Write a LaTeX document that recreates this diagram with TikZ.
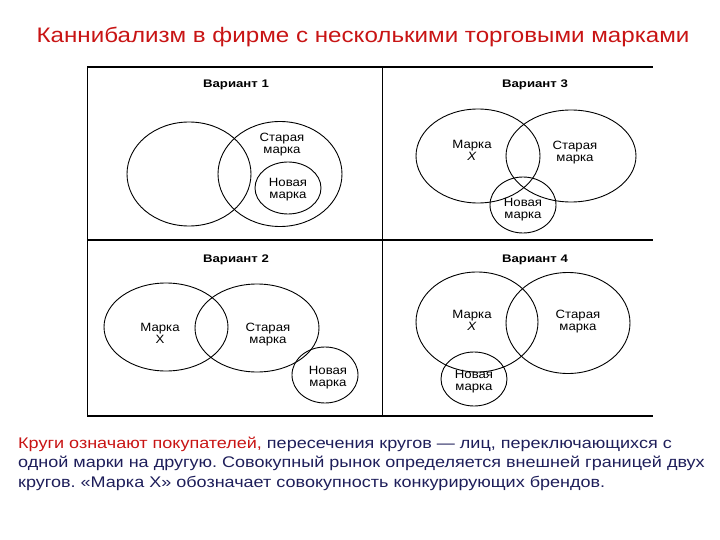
\documentclass[tikz,border=0pt]{standalone}
\usepackage{fontspec}
\setmainfont{Liberation Sans}
\usetikzlibrary{shapes.geometric}
\frenchspacing
\definecolor{ttlred}{RGB}{200,20,20}
\definecolor{txtblue}{RGB}{30,30,90}
\tikzset{
  frameline/.style={line width=1.8pt},
  thinline/.style={line width=0.9pt},
  ring/.style={ellipse, draw, line width=0.9pt, inner sep=0pt},
  vtitle/.style={font=\fontsize{11}{12}\selectfont\bfseries, xscale=1.2, anchor=base, inner sep=0pt},
  lbl/.style={font=\fontsize{12}{12}\selectfont, align=center, xscale=1.1, inner sep=0pt},
  body/.style={font=\fontsize{15.4}{18}\selectfont, anchor=base west, inner sep=0pt, text=txtblue, xscale=1.17}
}
\begin{document}
\begin{tikzpicture}[x=1pt,y=-1pt]
\useasboundingbox (0,0) rectangle (720,540);
% title
\node[font=\fontsize{21}{24}\selectfont, text=ttlred, xscale=1.15, anchor=base, inner sep=0pt] (title) at (363,43) {Каннибализм в фирме с несколькими торговыми марками};
% frame
\coordinate (tl) at (87,67);
\coordinate (tr) at (653,67);
\coordinate (ml) at (87,240);
\coordinate (mr) at (653,240);
\coordinate (bl) at (87,416);
\coordinate (br) at (653,416);
\coordinate (mt) at (382,67);
\coordinate (mb) at (382,416);
\draw[frameline] (tl) -- (tr);
\draw[frameline] (ml) -- (mr);
\draw[frameline] (bl) -- (br);
\draw[thinline] (tl) -- (bl);
\draw[thinline] (mt) -- (mb);
% Variant 1
\node[vtitle] (t1) at (236,88) {Вариант 1};
\node[ring, minimum width=124pt, minimum height=104pt] (a1) at (189,174) {};
\node[ring, minimum width=124pt, minimum height=105pt] (b1) at (280,174) {};
\node[ring, minimum width=66pt, minimum height=52pt] (c1) at (288,188) {};
\node[lbl] (lb1) at (282,145) {Старая\\марка};
\node[lbl] (lc1) at (288,190) {Новая\\марка};
% Variant 3
\node[vtitle] (t3) at (535,88) {Вариант 3};
\node[ring, minimum width=124pt, minimum height=94pt] (a3) at (478,156) {};
\node[ring, minimum width=130pt, minimum height=92pt] (b3) at (571,156) {};
\node[ring, minimum width=66pt, minimum height=56pt] (c3) at (523,205) {};
\node[lbl] (la3) at (472,150) {Марка\\\textit{X}};
\node[lbl] (lb3) at (575,153) {Старая\\марка};
\node[lbl] (lc3) at (523,210) {Новая\\марка};
% Variant 2
\node[vtitle] (t2) at (236,262) {Вариант 2};
\node[ring, minimum width=124pt, minimum height=88pt] (a2) at (166,327) {};
\node[ring, minimum width=124pt, minimum height=88pt] (b2) at (257,328) {};
\node[ring, minimum width=66pt, minimum height=56pt] (c2) at (325,375) {};
\node[lbl] (la2) at (160,333) {Марка\\X};
\node[lbl] (lb2) at (268,335) {Старая\\марка};
\node[lbl] (lc2) at (328,378) {Новая\\марка};
% Variant 4
\node[vtitle] (t4) at (535,262) {Вариант 4};
\node[ring, minimum width=122pt, minimum height=100pt] (a4) at (477,322) {};
\node[ring, minimum width=124pt, minimum height=101pt] (b4) at (568,323) {};
\node[ring, minimum width=66pt, minimum height=54pt] (c4) at (474,379) {};
\node[lbl] (la4) at (472,320) {Марка\\\textit{X}};
\node[lbl] (lb4) at (578,322) {Старая\\марка};
\node[lbl] (lc4) at (474,382) {Новая\\марка};
% caption
\node[body] (cap1) at (18,448) {\textcolor{ttlred}{Круги означают покупателей,} пересечения кругов — лиц, переключающихся с};
\node[body] (cap2) at (18,467.5) {одной марки на другую. Совокупный рынок определяется внешней границей двух};
\node[body] (cap3) at (18,487) {кругов. «Марка X» обозначает совокупность конкурирующих брендов.};
\end{tikzpicture}
\end{document}
